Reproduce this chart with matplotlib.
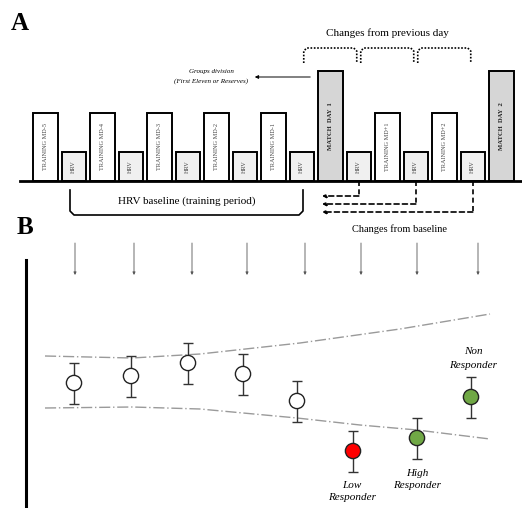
import matplotlib.pyplot as plt
import numpy as np

plt.rcParams['font.family'] = ['Liberation Serif', 'DejaVu Serif']

# panel A: one bar per day (pixel-like units, y up)
day_labels = ['TRAINING MD-5', 'HRV', 'TRAINING MD-4', 'HRV', 'TRAINING MD-3', 'HRV',
              'TRAINING MD-2', 'HRV', 'TRAINING MD-1', 'HRV', 'MATCH  DAY  1', 'HRV',
              'TRAINING MD+1', 'HRV', 'TRAINING MD+2', 'HRV', 'MATCH  DAY  2']
day_kind = ['train', 'hrv', 'train', 'hrv', 'train', 'hrv', 'train', 'hrv', 'train', 'hrv',
            'match', 'hrv', 'train', 'hrv', 'train', 'hrv', 'match']
bar_heights = [68, 29, 68, 29, 68, 29, 68, 29, 68, 29, 110, 29, 68, 29, 68, 29, 110]
kind_fill = {'train': 'white', 'hrv': '#f0f0f0', 'match': '#d6d6d6'}

# panel B: changes from baseline
point_x = [74, 131, 188, 243, 297, 353, 417, 471]
point_y = [125, 132, 145, 134, 107, 57, 70, 111]
point_err = [20.5] * 8
point_color = ['white'] * 5 + ['#ff0000', '#70a845', '#70a845']
arrow_x = [75, 134, 192, 247, 305, 361, 417, 478]

upper_x = [45, 132, 200, 300, 400, 490]
upper_y = [152, 150, 154, 165, 179, 194]
lower_x = [45, 132, 200, 297, 360, 417, 490]
lower_y = [100, 101, 99, 90, 83, 78, 69]

fig = plt.figure(figsize=(5.22, 5.08), dpi=100)
ax = fig.add_axes([0, 0, 1, 1])
ax.set_xlim(0, 522)
ax.set_ylim(0, 508)
ax.axis('off')

base = 327
x0, step, w = 33, 28.5, 24.5
lefts = x0 + step * np.arange(len(day_labels))
for i, (lab, kind, h) in enumerate(zip(day_labels, day_kind, bar_heights)):
    ax.bar(lefts[i], h, width=w, bottom=base, align='edge', color=kind_fill[kind],
           edgecolor='black', linewidth=1.4, zorder=2)
    ax.text(lefts[i] + w / 2, base + h / 2, lab, rotation=90, ha='center', va='center',
            fontsize=4.8 if kind == 'match' else 4.5, color='#222222' if kind == 'match' else '#444444',
            fontweight='bold' if kind == 'match' else 'normal', zorder=3)
ax.plot([20, 522], [base, base], color='black', lw=2, zorder=3)

ax.text(20, 485, 'A', fontsize=18, fontweight='bold', ha='center', va='center')
ax.text(25, 281, 'B', fontsize=18, fontweight='bold', ha='center', va='center')

# groups division note
ax.text(211, 436, 'Groups division', fontsize=5, style='italic', ha='center', va='center')
ax.text(211, 427, '(First Eleven or Reserves)', fontsize=5, style='italic', ha='center', va='center')
ax.annotate('', xy=(252, 431), xytext=(313, 431),
            arrowprops=dict(arrowstyle='-|>', color='black', lw=0.7, mutation_scale=5))

# changes from previous day
ax.text(387, 475, 'Changes from previous day', fontsize=8, ha='center', va='center')
hrv_centers = [lefts[i] + w / 2 for i in (9, 11, 13, 15)]
for a, b in zip(hrv_centers[:-1], hrv_centers[1:]):
    ax.plot([a + 2, a + 2, a + 5, b - 5, b - 2, b - 2], [445, 457, 460, 460, 457, 445],
            color='black', lw=1.2, ls=(0, (1, 1)))

# dashed return arrows
for cx, yy in zip(hrv_centers[1:], [312, 304, 296]):
    ax.plot([cx, cx], [base, yy], color='black', lw=1.2, ls=(0, (3, 2)))
    ax.annotate('', xy=(322, yy), xytext=(cx, yy),
                arrowprops=dict(arrowstyle='-|>', color='black', lw=1.2, ls=(0, (3, 2)),
                                mutation_scale=5, shrinkA=0, shrinkB=0))

# HRV baseline bracket
ax.plot([70, 70, 74, 299, 303, 303], [318, 297, 293, 293, 297, 318], color='black', lw=1.2)
ax.text(187, 307, 'HRV baseline (training period)', fontsize=8, ha='center', va='center')

# panel B
ax.text(400, 279, 'Changes from baseline', fontsize=7.5, ha='center', va='center')
for xa in arrow_x:
    ax.annotate('', xy=(xa, 233), xytext=(xa, 265),
                arrowprops=dict(arrowstyle='-|>', color='#555555', lw=0.6, mutation_scale=4,
                                shrinkA=0, shrinkB=0))
ax.plot([26, 26], [0, 248], color='black', lw=2.2)

ax.plot(upper_x, upper_y, color='#9a9a9a', lw=1, ls=(0, (8, 2, 1, 2)))
ax.plot(lower_x, lower_y, color='#9a9a9a', lw=1, ls=(0, (8, 2, 1, 2)))

ax.errorbar(point_x, point_y, yerr=point_err, fmt='none', ecolor='#333333', elinewidth=1,
            capsize=3.5, capthick=1, zorder=4)
ax.scatter(point_x, point_y, s=120, c=point_color, edgecolors='#222222', linewidths=1, zorder=5)

ax.text(473, 156, 'Non', fontsize=8, style='italic', ha='center', va='center')
ax.text(473, 143, 'Responder', fontsize=8, style='italic', ha='center', va='center')
ax.text(417, 35, 'High', fontsize=8, style='italic', ha='center', va='center')
ax.text(417, 23, 'Responder', fontsize=8, style='italic', ha='center', va='center')
ax.text(352, 23, 'Low', fontsize=8, style='italic', ha='center', va='center')
ax.text(352, 11, 'Responder', fontsize=8, style='italic', ha='center', va='center')

fig.savefig('out.png', dpi=100)
